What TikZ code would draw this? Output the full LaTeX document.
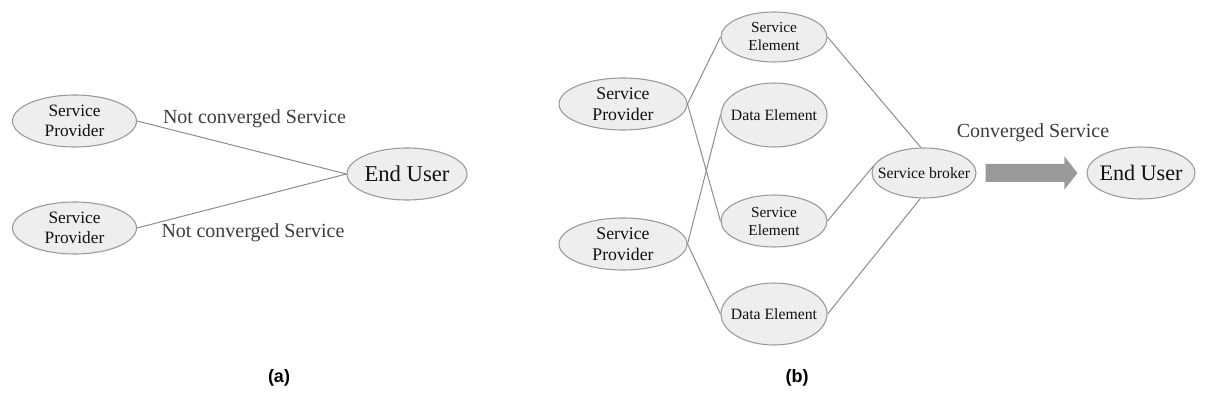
\documentclass[tikz,border=0pt]{standalone}
\usepackage{fontspec}
\setmainfont{Liberation Serif}
\newfontfamily\capfont{Liberation Sans}
\usetikzlibrary{shapes.geometric,calc}
\definecolor{bubblefill}{HTML}{EEEEEE}
\definecolor{bubbleline}{HTML}{999999}
\definecolor{wire}{HTML}{8C8C8C}
\definecolor{ink}{HTML}{111111}
\definecolor{softink}{HTML}{3C3C3C}
\definecolor{arrowfill}{HTML}{9A9A9A}
\tikzset{
  bubble/.style 2 args={ellipse, draw=bubbleline, fill=bubblefill, line width=0.8pt,
    inner sep=0pt, minimum width=#1, minimum height=#2},
  intext/.style={text=ink, align=center, inner sep=0pt},
  wirestyle/.style={draw=wire, line width=0.75pt},
  edgelabel/.style={text=softink, inner sep=0pt},
  caption/.style={text=black, inner sep=0pt, font=\capfont\bfseries\fontsize{13.5}{16}\selectfont}
}
\begin{document}
\begin{tikzpicture}[x=0.75pt, y=-0.75pt]
\useasboundingbox (0,0) rectangle (1208,406);

% ---- (a) separate services ----
\node[bubble={93pt}{39pt}, label={[intext, font=\fontsize{13}{15.5}\selectfont]center:Service\\Provider}] (lsp1) at (74.5,121) {};
\node[bubble={93pt}{39pt}, label={[intext, font=\fontsize{13}{15.5}\selectfont]center:Service\\Provider}] (lsp2) at (74.5,228) {};
\node[bubble={90pt}{39pt}, label={[intext, font=\fontsize{17}{20}\selectfont]center:End User}] (leu) at (407,174) {};

\draw[wirestyle] (lsp1.east) -- (leu.west);
\draw[wirestyle] (lsp2.east) -- (leu.west);

\node[edgelabel, font=\fontsize{15}{18}\selectfont] (lna) at (254.5,119) {Not converged Service};
\node[edgelabel, font=\fontsize{15}{18}\selectfont] (lnb) at (253,233) {Not converged Service};

% ---- (b) converged service through a broker ----
\node[bubble={96pt}{39pt}, label={[intext, font=\fontsize{13.3}{15.8}\selectfont]center:Service\\Provider}] (rsp1) at (623,104) {};
\node[bubble={96pt}{39pt}, label={[intext, font=\fontsize{13.3}{15.8}\selectfont]center:Service\\Provider}] (rsp2) at (623,244) {};

\node[bubble={79.5pt}{37.5pt}, label={[intext, font=\fontsize{11.5}{13.5}\selectfont]center:Service\\Element}] (se1) at (774,37) {};
\node[bubble={79.5pt}{48pt}, label={[intext, font=\fontsize{11.8}{14}\selectfont]center:Data Element}] (de1) at (774,115) {};
\node[bubble={79.5pt}{39pt}, label={[intext, font=\fontsize{11.5}{13.5}\selectfont]center:Service\\Element}] (se2) at (774,221) {};
\node[bubble={79.5pt}{46.5pt}, label={[intext, font=\fontsize{11.8}{14}\selectfont]center:Data Element}] (de2) at (774,314) {};

\node[bubble={78pt}{37.5pt}, label={[intext, font=\fontsize{11.8}{14}\selectfont]center:Service broker}] (broker) at (924,173) {};
\node[bubble={81pt}{39pt}, label={[intext, font=\fontsize{16.6}{20}\selectfont]center:End User}] (reu) at (1141,173) {};

\draw[wirestyle] (rsp1.east) -- (se1.west);
\draw[wirestyle] (rsp1.east) -- (se2.west);
\draw[wirestyle] (rsp2.east) -- (de1.west);
\draw[wirestyle] (rsp2.east) -- (de2.west);
\draw[wirestyle] (se1.east) -- (broker.97);
\draw[wirestyle] (se2.east) -- (broker.172);
\draw[wirestyle] (de2.east) -- (broker.262);

% broad block arrow from the broker to the end user
\fill[arrowfill] ($(broker.east)+(9,-9)$) -- ($(reu.west)+(-22,-9)$) -- ($(reu.west)+(-22,-16.5)$)
  -- ($(reu.west)+(-9,0)$) -- ($(reu.west)+(-22,16.5)$) -- ($(reu.west)+(-22,9)$)
  -- ($(broker.east)+(9,9)$) -- cycle;
\node[edgelabel, font=\fontsize{15}{18}\selectfont] (conv) at (1033,133) {Converged Service};

% ---- captions ----
\node[caption] (capa) at (279,378) {(a)};
\node[caption] (capb) at (797,378) {(b)};
\end{tikzpicture}
\end{document}
